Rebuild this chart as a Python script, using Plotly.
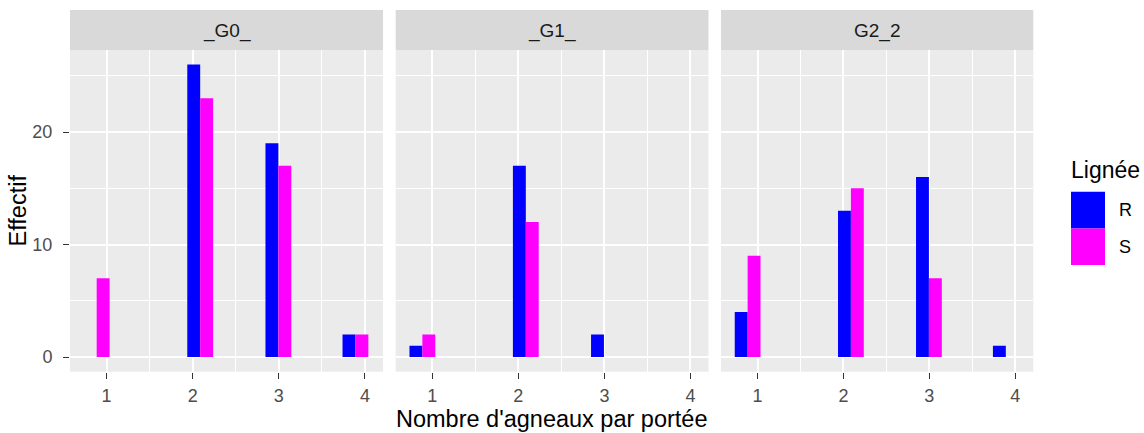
import plotly.graph_objects as go

# data
bins = [0.885, 2.087, 2.995, 3.89]
groups = ["_G0_", "_G1_", "G2_2"]
r_g0 = [0, 26, 19, 2]
s_g0 = [7, 23, 17, 2]
r_g1 = [1, 17, 2, 0]
s_g1 = [2, 12, 0, 0]
r_g2 = [4, 13, 16, 1]
s_g2 = [9, 15, 7, 0]
lines = ["R", "S"]
colors = {"R": "#0000FF", "S": "#FF00FF"}

counts = {"_G0_": {"R": r_g0, "S": s_g0},
          "_G1_": {"R": r_g1, "S": s_g1},
          "G2_2": {"R": r_g2, "S": s_g2}}

W, H = 1144, 433
FONT = "Liberation Sans, Arial, sans-serif"
panels_px = [(70, 383), (395.7, 708.5), (721, 1033.3)]
top_px, bot_px = 50, 371.7
strip_top = 10

def px_x(v):
    return v / W

def px_y(v):
    return 1 - v / H

fig = go.Figure()

for i, g in enumerate(groups):
    suffix = "" if i == 0 else str(i + 1)
    for lab in lines:
        fig.add_trace(go.Bar(
            x=bins, y=counts[g][lab],
            width=0.15, offset=-0.15 if lab == "R" else 0,
            marker=dict(color=colors[lab], line=dict(width=0)),
            name=lab, showlegend=False,
            xaxis="x" + suffix, yaxis="y" + suffix,
        ))

layout = dict(
    width=W, height=H,
    margin=dict(l=0, r=0, t=0, b=0),
    paper_bgcolor="white",
    plot_bgcolor="#EBEBEB",
    barmode="overlay",
    font=dict(family=FONT, color="#4D4D4D"),
    shapes=[], annotations=[],
)

for i, (x0, x1) in enumerate(panels_px):
    suffix = "" if i == 0 else str(i + 1)
    layout["xaxis" + suffix] = dict(
        domain=[px_x(x0), px_x(x1)], anchor="y" + suffix,
        range=[0.575, 4.21], tickmode="array", tickvals=[1, 2, 3, 4],
        ticks="outside", ticklen=6, tickwidth=1.2, tickcolor="#333333",
        tickfont=dict(size=18, color="#4D4D4D"), ticklabelstandoff=2,
        showgrid=True, gridcolor="white", gridwidth=2, zeroline=False,
        minor=dict(tickvals=[1.5, 2.5, 3.5], showgrid=True,
                   gridcolor="white", gridwidth=1, ticks=""),
        showline=False, fixedrange=True,
    )
    layout["yaxis" + suffix] = dict(
        domain=[px_y(bot_px), px_y(top_px)], anchor="x" + suffix,
        range=[-1.3, 27.3], tickmode="array", tickvals=[0, 10, 20],
        ticks="outside" if i == 0 else "", ticklen=6, tickwidth=1.2,
        tickcolor="#333333", showticklabels=(i == 0),
        tickfont=dict(size=18, color="#4D4D4D"), ticklabelstandoff=7,
        showgrid=True, gridcolor="white", gridwidth=2, zeroline=False,
        minor=dict(tickvals=[5, 15, 25], showgrid=True,
                   gridcolor="white", gridwidth=1, ticks=""),
        showline=False, fixedrange=True,
    )
    # facet strip
    layout["shapes"].append(dict(
        type="rect", xref="paper", yref="paper",
        x0=px_x(x0), x1=px_x(x1), y0=px_y(top_px), y1=px_y(strip_top),
        fillcolor="#D9D9D9", line=dict(width=0), layer="below",
    ))
    layout["annotations"].append(dict(
        text=groups[i], xref="paper", yref="paper",
        x=px_x((x0 + x1) / 2), y=px_y((top_px + strip_top) / 2 + 1),
        showarrow=False, xanchor="center", yanchor="middle",
        font=dict(size=19, color="#1A1A1A", family=FONT),
    ))

# axis titles
layout["annotations"].append(dict(
    text="Nombre d'agneaux par portée", xref="paper", yref="paper",
    x=px_x(552), y=px_y(419), showarrow=False,
    xanchor="center", yanchor="middle",
    font=dict(size=23.5, color="black", family=FONT),
))
layout["annotations"].append(dict(
    text="Effectif", xref="paper", yref="paper",
    x=px_x(17.5), y=px_y(211), showarrow=False, textangle=-90,
    xanchor="center", yanchor="middle",
    font=dict(size=23.5, color="black", family=FONT),
))

# legend drawn by hand (ggplot style big keys)
layout["annotations"].append(dict(
    text="Lignée", xref="paper", yref="paper",
    x=px_x(1069), y=px_y(170), showarrow=False,
    xanchor="left", yanchor="middle",
    font=dict(size=23, color="black", family=FONT),
))
key_top = 191.7
key_h = 36.7
for j, lab in enumerate(lines):
    y0 = key_top + j * key_h
    layout["shapes"].append(dict(
        type="rect", xref="paper", yref="paper",
        x0=px_x(1071), x1=px_x(1105), y0=px_y(y0 + key_h), y1=px_y(y0),
        fillcolor=colors[lab], line=dict(width=0),
    ))
    layout["annotations"].append(dict(
        text=lab, xref="paper", yref="paper",
        x=px_x(1117), y=px_y(y0 + key_h / 2), showarrow=False,
        xanchor="left", yanchor="middle",
        font=dict(size=18, color="black", family=FONT),
    ))

fig.update_layout(**layout)
# the page body has a default 8px margin, drop it so the figure fills the window
fig.write_html("out.html", config={"displayModeBar": False},
               post_script="document.body.style.margin='0';")
